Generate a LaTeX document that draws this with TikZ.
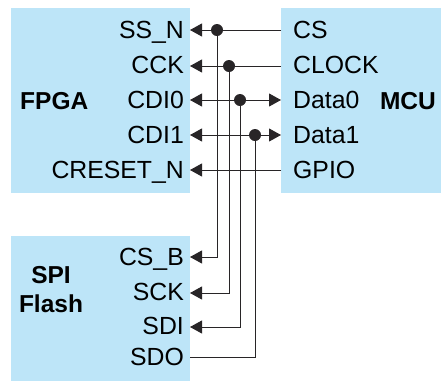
\documentclass[tikz,border=0pt]{standalone}
\usepackage{fontspec}
\setmainfont{Liberation Sans}
\usetikzlibrary{arrows.meta}
\definecolor{boxblue}{RGB}{189,229,248}
\definecolor{wire}{RGB}{40,37,39}
\begin{document}
\begin{tikzpicture}[x=1pt,y=-1pt,
  blk/.style={fill=boxblue,draw=none,minimum width=0pt,inner sep=0pt},
  lbl/.style={inner sep=0pt,font=\fontsize{24.8}{28}\selectfont},
  lleft/.style={lbl,anchor=base east},
  lright/.style={lbl,anchor=base west},
  title/.style={inner sep=0pt,font=\fontsize{24.5}{29}\selectfont\bfseries,align=center},
  wireln/.style={draw=wire,line width=0.9pt},
  tip/.style={-{Triangle[length=12pt,width=13pt]}},
  dtip/.style={{Triangle[length=12pt,width=13pt]}-{Triangle[length=12pt,width=13pt]}},
  junc/.style={circle,fill=wire,inner sep=0pt,minimum size=12pt}]
\useasboundingbox (0,0) rectangle (441,381);
% blocks
\node[blk,minimum width=179pt,minimum height=185pt,anchor=north west] (fpga) at (11,8) {};
\node[blk,minimum width=160pt,minimum height=185pt,anchor=north west] (mcu) at (281,8) {};
\node[blk,minimum width=179pt,minimum height=145pt,anchor=north west] (spi) at (11,236) {};
% titles
\node[title,anchor=west] (tf) at (20,101) {FPGA};
\node[title,anchor=east] (tm) at (436,101) {MCU};
\node[title] (ts) at (51,290) {SPI\\Flash};
% FPGA labels
\node[lleft] (ssn) at (184,38) {SS\_N};
\node[lleft] (cck) at (184,73) {CCK};
\node[lleft] (cdi0) at (184,108) {CDI0};
\node[lleft] (cdi1) at (184,143) {CDI1};
\node[lleft] (creset) at (184,178) {CRESET\_N};
% MCU labels
\node[lright] (cs) at (293,38) {CS};
\node[lright] (clock) at (293,73) {CLOCK};
\node[lright] (data0) at (293,108) {Data0};
\node[lright] (data1) at (293,143) {Data1};
\node[lright] (gpio) at (293,178) {GPIO};
% SPI labels
\node[lleft] (csb) at (184,265) {CS\_B};
\node[lleft] (sck) at (184,300) {SCK};
\node[lleft] (sdi) at (184,334) {SDI};
\node[lleft] (sdo) at (184,365) {SDO};
% pin coordinates
\coordinate (fp1) at (190,30);
\coordinate (fp2) at (190,66);
\coordinate (fp3) at (190,100);
\coordinate (fp4) at (190,135);
\coordinate (fp5) at (190,170);
\coordinate (mp1) at (281,30);
\coordinate (mp2) at (281,66);
\coordinate (mp3) at (281,100);
\coordinate (mp4) at (281,135);
\coordinate (mp5) at (281,170);
\coordinate (sp1) at (190,257);
\coordinate (sp2) at (190,293);
\coordinate (sp3) at (190,327);
\coordinate (sp4) at (190,357);
% junctions
\node[junc] (j1) at (217,30) {};
\node[junc] (j2) at (229,66) {};
\node[junc] (j3) at (240,100) {};
\node[junc] (j4) at (255,135) {};
% wires
\draw[wireln,tip] (mp1) -- (fp1);
\draw[wireln,tip] (mp2) -- (fp2);
\draw[wireln,dtip] (fp3) -- (mp3);
\draw[wireln,dtip] (fp4) -- (mp4);
\draw[wireln,tip] (mp5) -- (fp5);
\draw[wireln,tip] (j1.center) |- (sp1);
\draw[wireln,tip] (j2.center) |- (sp2);
\draw[wireln,tip] (j3.center) |- (sp3);
\draw[wireln] (j4.center) |- (sp4);
\end{tikzpicture}
\end{document}
